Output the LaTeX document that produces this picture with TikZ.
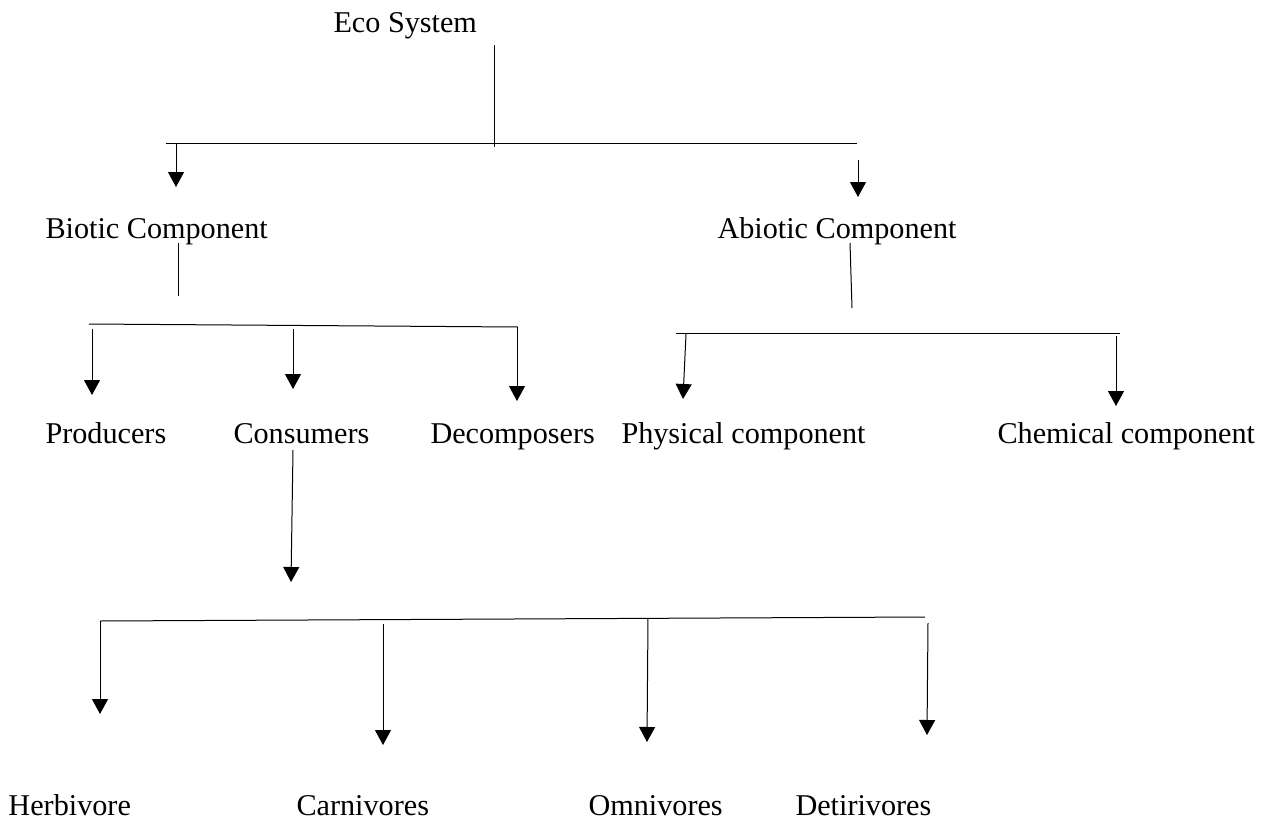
\documentclass[tikz,border=0pt]{standalone}
\usepackage{fontspec}
\setmainfont{Liberation Serif}
\usetikzlibrary{arrows.meta}

\begin{document}
\begin{tikzpicture}[x=1pt,y=-1pt,line width=1pt,
    lbl/.style={font=\fontsize{30.2}{35}\selectfont,inner sep=0pt,anchor=base west},
    arr/.style={-{Triangle[width=16pt,length=15pt]}}]
\useasboundingbox (0,0) rectangle (1264,822);

% labels
\node[lbl] (eco) at (333,32) {Eco System};
\node[lbl] (biotic) at (45,238) {Biotic Component};
\node[lbl] (abiotic) at (717,238) {Abiotic Component};

\node[lbl] (prod) at (45,443) {Producers};
\node[lbl] (cons) at (233,443) {Consumers};
\node[lbl] (deco) at (430,443) {Decomposers};
\node[lbl] (phys) at (621,443) {Physical component};
\node[lbl] (chem) at (997,443) {Chemical component};

\node[lbl] (herb) at (8,815) {Herbivore};
\node[lbl] (carn) at (296,815) {Carnivores};
\node[lbl] (omni) at (588,815) {Omnivores};
\node[lbl] (detr) at (795,815) {Detirivores};

% bars
\coordinate (eco-s) at (494,45);
\coordinate (eco-j) at (494,147);
\draw (eco-s) -- (eco-j);
\coordinate (b1l) at (166,143);
\coordinate (b1r) at (857,143);
\draw (b1l) -- (b1r);

\coordinate (bio-s) at (178,243);
\coordinate (bio-j) at (178,296);
\draw (bio-s) -- (bio-j);
\coordinate (b2l) at (89,324);
\coordinate (b2r) at (518,327);
\draw (b2l) -- (b2r);

\coordinate (abio-s) at (850,243);
\coordinate (abio-j) at (852,308);
\draw (abio-s) -- (abio-j);
\coordinate (b3l) at (676,333);
\coordinate (b3r) at (1120,333);
\draw (b3l) -- (b3r);

\coordinate (b4l) at (100,621);
\coordinate (b4r) at (925,617);
\draw (b4l) -- (b4r);

% arrows
\foreach \n/\x/\a/\y/\b in {biotic/176/143/176/187, abiotic/858/160/858/197,
    prod/92/329/92/395, cons/293/329/293/389, deco/517/327/517/401,
    phys/686/334/683/399, chem/1116/336/1116/406,
    sub/293/450/291/582,
    herb/100/621/100/714, carn/383/624/383/745, omni/648/618/647/742, detr/928/623/927/735} {
  \coordinate (\n-s) at (\x,\a);
  \coordinate (\n-t) at (\y,\b);
  \draw[arr] (\n-s) -- (\n-t);
}

\end{tikzpicture}
\end{document}
